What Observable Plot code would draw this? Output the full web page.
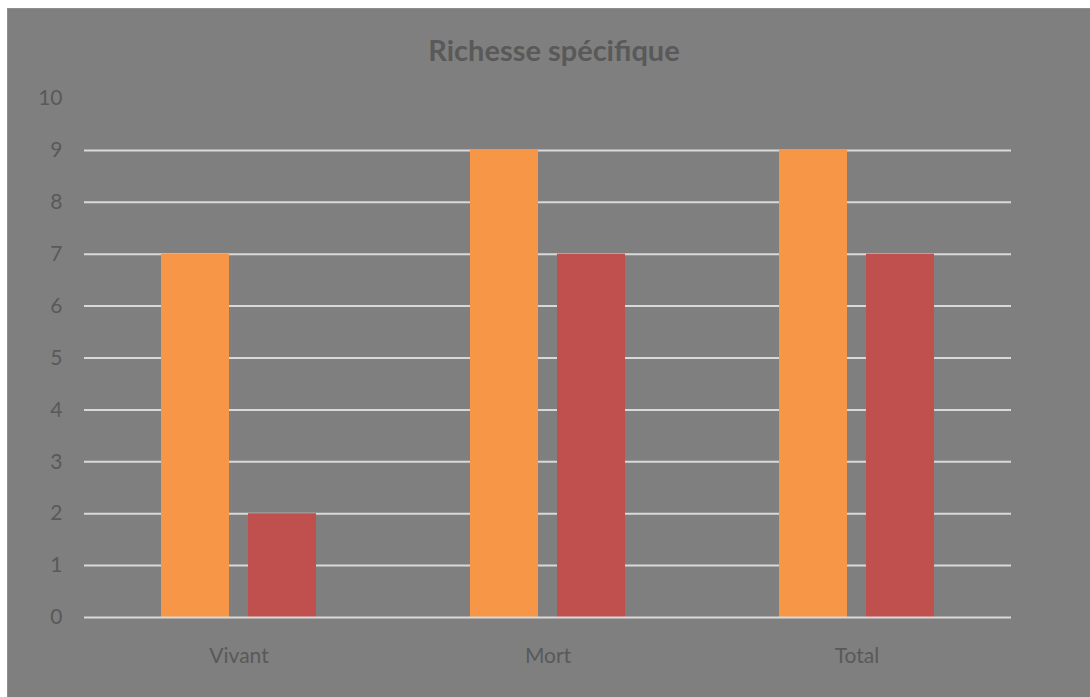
<!DOCTYPE html>
<html>
<head>
<meta charset="utf-8">
<script src="https://cdn.jsdelivr.net/npm/d3@7"></script>
<script src="https://cdn.jsdelivr.net/npm/@observablehq/plot@0.6"></script>
<style>
  html, body { margin: 0; padding: 0; background: #ffffff; width: 1090px; height: 697px; overflow: hidden; }
  #chart {
    position: absolute; left: 7px; top: 8px; width: 1083px; height: 689px;
    background: #7f7f7f; border-left: 1px solid #8e8e8e; border-top: 1px solid #8e8e8e;
    box-sizing: border-box; overflow: hidden; font-family: Lato, sans-serif;
  }
  #title {
    height: 59px; box-sizing: border-box; padding-top: 24px; padding-left: 10px;
    text-align: center; font-size: 29px; line-height: 34.8px; font-weight: bold; color: #595959;
  }
</style>
</head>
<body>
<div id="chart">
  <div id="title">Richesse spécifique</div>
</div>
<script>
const categories = ["Vivant", "Mort", "Total"];
const seriesNames = ["Série 1", "Série 2"];
const serie1 = [7, 9, 9];
const serie2 = [2, 7, 7];
const seriesColors = ["#f79646", "#c0504d"];
const yTicks = [0, 1, 2, 3, 4, 5, 6, 7, 8, 9, 10];
const gridValues = [0, 1, 2, 3, 4, 5, 6, 7, 8, 9];

const rows = [];
categories.forEach((c, i) => {
  rows.push({category: c, series: seriesNames[0], value: serie1[i]});
  rows.push({category: c, series: seriesNames[1], value: serie2[i]});
});

const plot = Plot.plot({
  width: 1082,
  height: 629,
  marginLeft: 76,
  marginRight: 79,
  marginTop: 30,
  marginBottom: 80,
  style: {background: "transparent", fontFamily: "Lato, sans-serif", fontSize: "21px", color: "#595959"},
  fx: {domain: categories, padding: 0, label: null},
  x: {domain: seriesNames, paddingInner: 0.217, paddingOuter: 0.874, axis: null, label: null},
  y: {domain: [0, 10], label: null},
  color: {domain: seriesNames, range: seriesColors},
  marks: [
    Plot.ruleY(gridValues.filter(v => v > 0), {stroke: "#d9d9d9", strokeWidth: 2}),
    Plot.barY(rows, {fx: "category", x: "series", y: "value", fill: "series"}),
    Plot.ruleY([0], {stroke: "#d9d9d9", strokeWidth: 2}),
    Plot.axisY(yTicks, {tickSize: 0, tickPadding: 22, tickFormat: d3.format("d"), fontSize: 21, fill: "#595959", label: null}),
    Plot.axisFx({anchor: "bottom", tickSize: 0, tickPadding: 31, fontSize: 21, fill: "#595959", label: null})
  ]
});
document.getElementById("chart").appendChild(plot);
</script>
</body>
</html>
